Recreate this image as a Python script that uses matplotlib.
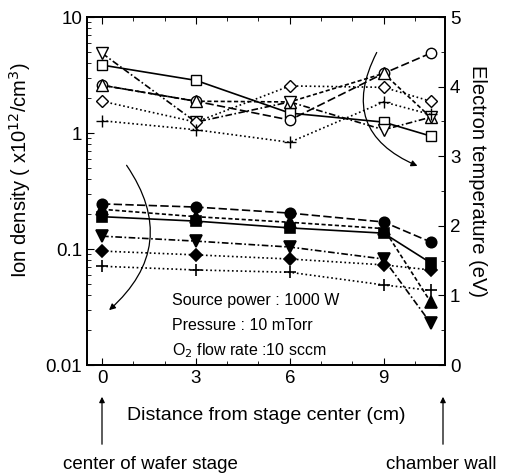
import matplotlib.pyplot as plt
from matplotlib.patches import FancyArrowPatch
from matplotlib.ticker import MultipleLocator, LogLocator, NullFormatter
import numpy as np

plt.rcParams['font.family'] = ['Liberation Sans', 'DejaVu Sans']

# distance from stage center (cm)
dist = [0, 3, 6, 9, 10.5]

# ion density (x10^12 /cm^3), filled markers, left log axis
ion_sq = [0.19, 0.174, 0.152, 0.137, 0.076]
ion_ci = [0.245, 0.23, 0.204, 0.171, 0.115]
ion_up = [0.22, 0.19, 0.17, 0.15, 0.035]
ion_dn = [0.129, 0.117, 0.104, 0.082, 0.023]
ion_di = [0.096, 0.089, 0.082, 0.073, 0.066]
ion_pl = [0.071, 0.066, 0.063, 0.049, 0.044]

# electron temperature (eV), open markers, right axis
te_sq = [4.31, 4.09, 3.62, 3.49, 3.29]
te_ci = [4.02, 3.79, 3.52, 4.19, 4.48]
te_up = [4.02, 3.79, 3.78, 4.19, 3.56]
te_dn = [4.48, 3.49, 3.78, 3.38, 3.56]
te_di = [3.79, 3.49, 4.01, 3.99, 3.79]
te_pl = [3.51, 3.38, 3.20, 3.78, 3.60]

dash = (0, (5, 2))
dot = (0, (1, 1.6))
dashdot = (0, (4, 1.5, 1, 1.5))
styles = [
    ('s', '-', 7),
    ('o', dash, 7.5),
    ('^', (0, (2.5, 1.5)), 8),
    ('v', dashdot, 8),
    ('D', dot, 6),
    ('+', dot, 8),
]

fig = plt.figure(figsize=(5.16, 4.73), dpi=100)
ax = fig.add_axes([0.1686, 0.2283, 0.6938, 0.7357])
ax2 = ax.twinx()

for (m, ls, ms), y in zip(styles, [ion_sq, ion_ci, ion_up, ion_dn, ion_di, ion_pl]):
    ax.plot(dist, y, color='black', ls=ls, lw=1.2, marker=m, ms=ms,
            mfc='black', mec='black', mew=1.2)

for (m, ls, ms), y in zip(styles, [te_sq, te_ci, te_up, te_dn, te_di, te_pl]):
    ax2.plot(dist, y, color='black', ls=ls, lw=1.2, marker=m, ms=ms,
             mfc='white', mec='black', mew=1.0)

ax.set_yscale('log')
ax.set_ylim(0.01, 10)
ax.set_xlim(-0.48, 10.96)
ax2.set_ylim(0, 5)

ax.set_xticks([0, 3, 6, 9])
ax.xaxis.set_minor_locator(MultipleLocator(1))
ax.yaxis.set_major_locator(LogLocator(base=10))
ax.yaxis.set_minor_locator(LogLocator(base=10, subs=np.arange(2, 10)))
ax.yaxis.set_minor_formatter(NullFormatter())
ax.set_yticks([0.01, 0.1, 1, 10])
ax.set_yticklabels(['0.01', '0.1', '1', '10'])
ax2.yaxis.set_major_locator(MultipleLocator(1))
ax2.yaxis.set_minor_locator(MultipleLocator(0.5))

ax.tick_params(which='both', direction='in', top=True, labelsize=13.5)
ax.tick_params(which='major', length=5)
ax.tick_params(which='minor', length=3)
ax2.tick_params(which='both', direction='in', labelsize=13.5)
ax2.tick_params(which='major', length=5)
ax2.tick_params(which='minor', length=3)

for a in (ax, ax2):
    for s in a.spines.values():
        s.set_linewidth(1.3)

ax.set_xlabel('Distance from stage center (cm)', fontsize=14)
ax.xaxis.set_label_coords(0.5, -0.12)
ax.set_ylabel('Ion density ( x10$^{12}$/cm$^3$)', fontsize=14.5)
ax.yaxis.set_label_coords(-0.151, 0.56)
ax2.set_ylabel('Electron temperature (eV)', fontsize=14.5, rotation=270, va='center')
ax2.yaxis.set_label_coords(1.092, 0.53)

ax.text(0.237, 0.172, 'Source power : 1000 W', transform=ax.transAxes, fontsize=11.5)
ax.text(0.237, 0.1, 'Pressure : 10 mTorr', transform=ax.transAxes, fontsize=11.5)
ax.text(0.237, 0.028, 'O$_2$ flow rate :10 sccm', transform=ax.transAxes, fontsize=11.5)

# curved arrows pointing to the relevant axis
a1 = FancyArrowPatch((125, 473 - 163), (107, 473 - 312), transform=None,
                     connectionstyle='arc3,rad=-0.45', arrowstyle='-|>',
                     mutation_scale=9, lw=0.9, color='black')
a2 = FancyArrowPatch((378, 473 - 50), (420, 473 - 167), transform=None,
                     connectionstyle='arc3,rad=0.55', arrowstyle='-|>',
                     mutation_scale=9, lw=0.9, color='black')
fig.patches.extend([a1, a2])

# arrows below the axis
for xp in (102, 443):
    fig.patches.append(FancyArrowPatch((xp, 473 - 447), (xp, 473 - 394), transform=None,
                                       arrowstyle='-|>', mutation_scale=8, lw=0.9,
                                       color='black'))
fig.text(150 / 516, 1 - 464 / 473, 'center of wafer stage', ha='center', va='center', fontsize=13.5)
fig.text(441 / 516, 1 - 464 / 473, 'chamber wall', ha='center', va='center', fontsize=13.5)

fig.savefig('out.png', dpi=100)
